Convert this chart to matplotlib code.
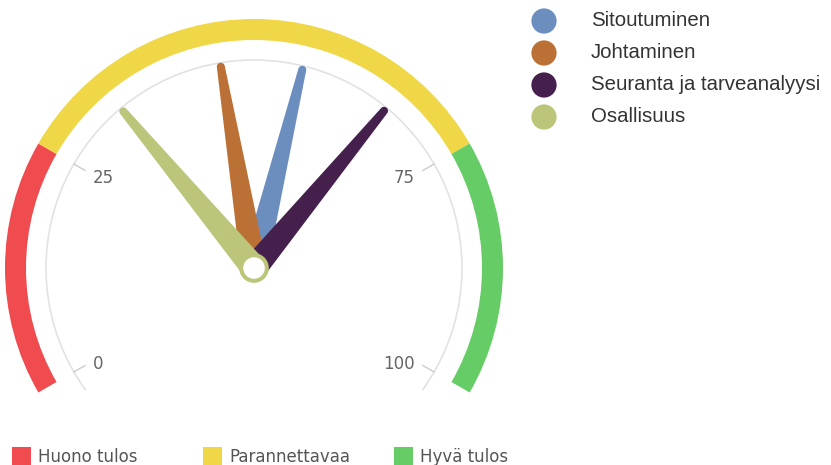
import numpy as np
import matplotlib
matplotlib.use('Agg')
import matplotlib.pyplot as plt
from matplotlib.patches import Wedge, Arc, Circle, Polygon, Rectangle

# data
series = ['Sitoutuminen', 'Johtaminen', 'Seuranta ja tarveanalyysi', 'Osallisuus']
values = [55.7, 46.1, 66.5, 33.4]
needle_colors = ['#6b8ebf', '#bb7036', '#45204d', '#bcc579']

bands = [(0, 25), (25, 75), (75, 100)]
band_names = ['Huono tulos', 'Parannettavaa', 'Hyvä tulos']
band_colors = ['#f04b4e', '#efd747', '#66cc66']

tick_values = [0, 25, 75, 100]

W, H = 831, 465
cx, cy = 254, H - 268
start, sweep = 210, 240


def ang(v):
    return start - v / 100 * sweep


fig = plt.figure(figsize=(W / 100, H / 100), dpi=100)
ax = fig.add_axes([0, 0, 1, 1])
ax.set_xlim(0, W)
ax.set_ylim(0, H)
ax.axis('off')

# colour bands
for (lo, hi), c in zip(bands, band_colors):
    ax.add_patch(Wedge((cx, cy), 249, ang(hi), ang(lo), width=21, facecolor=c, edgecolor='none'))

# pane line (a bit longer than the scale)
ax.add_patch(Arc((cx, cy), 2 * 208, 2 * 208, theta1=ang(100) - 6, theta2=ang(0) + 6, color='#e2e2e2', lw=1.2))

# ticks + labels
for v in tick_values:
    a = np.radians(ang(v))
    ax.plot([cx + 208 * np.cos(a), cx + 195 * np.cos(a)],
            [cy + 208 * np.sin(a), cy + 195 * np.sin(a)], color='#cccccc', lw=1.0)
    lx, ly = cx + 186 * np.cos(a), cy + 186 * np.sin(a) - 3
    ax.text(lx, ly, str(v), ha='left' if v < 50 else 'right', va='center',
            fontsize=12, color='#666666', family='DejaVu Sans')

# needles
L, bw, tw = 204, 13, 4
c0 = np.array([cx, cy])
for v, c in zip(values, needle_colors):
    a = np.radians(ang(v))
    d = np.array([np.cos(a), np.sin(a)])
    p = np.array([-d[1], d[0]])
    tip = c0 + d * L
    cap = [tip + tw * (-np.cos(t) * p + np.sin(t) * d) for t in np.linspace(0, np.pi, 14)]
    pts = [c0 - p * bw, tip - p * tw] + cap + [c0 + p * bw]
    ax.add_patch(Polygon(pts, closed=True, facecolor=c, edgecolor='none'))

# pivot
ax.add_patch(Circle((cx, cy), 12.8, facecolor='white', edgecolor=needle_colors[-1], lw=2.9))

# series legend
for i, (s, c) in enumerate(zip(series, needle_colors)):
    y = H - (21 + i * 32)
    ax.scatter([544], [y], s=330, color=c, edgecolor='none')
    ax.text(591, y, s, ha='left', va='center', fontsize=14.7, color='#333333', family='Liberation Sans')

# band legend
lx = [12, 203, 394]
for x, s, c in zip(lx, band_names, band_colors):
    ax.add_patch(Rectangle((x, -2), 19, 20, facecolor=c, edgecolor='none'))
    ax.text(x + 26, 17, s, ha='left', va='top', fontsize=12, color='#555555', family='DejaVu Sans')

fig.savefig('out.png', dpi=100)
